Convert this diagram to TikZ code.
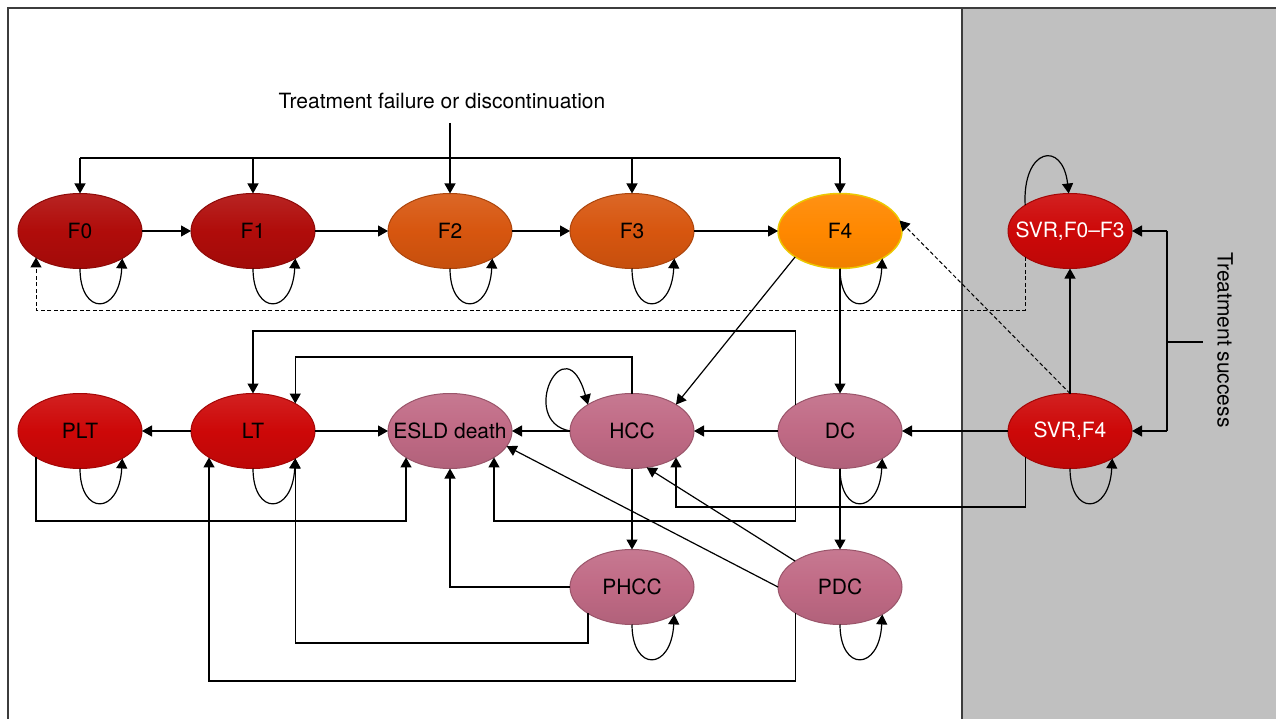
\documentclass[tikz,border=0pt]{standalone}
\usepackage{fontspec}
\setmainfont{TeX Gyre Heros}
\usetikzlibrary{shapes.geometric,arrows.meta,calc}
\definecolor{dredC}{RGB}{176,12,10}
\definecolor{orgC}{RGB}{215,86,15}
\definecolor{f4C}{RGB}{255,136,0}
\definecolor{f4edge}{RGB}{236,200,0}
\definecolor{redC}{RGB}{205,8,8}
\definecolor{pinkC}{RGB}{192,106,133}
\definecolor{bgC}{RGB}{192,192,192}
\definecolor{frameC}{RGB}{60,60,60}
\tikzset{
  base/.style={ellipse, minimum width=124pt, minimum height=75pt, inner sep=0pt, outer sep=0pt, line width=1pt, font=\fontsize{21}{25}\selectfont},
  stc/.style={base, draw=#1!80!black, top color=#1!90!white, bottom color=#1!92!black, middle color=#1},
  f4st/.style={base, draw=f4edge, line width=1.5pt, top color=f4C!92!white, bottom color=f4C!94!black, middle color=f4C},
  arr/.style={line width=1.2pt, -{Triangle[length=10pt,width=11pt]}},
  ln/.style={line width=1.2pt},
  dsh/.style={line width=1pt, dash pattern=on 4pt off 2.5pt, -{Triangle[length=10pt,width=11pt]}},
  lbl/.style={font=\fontsize{21}{25}\selectfont, inner sep=0pt}
}
\newcommand{\mk}[1]{\makebox[0pt]{#1}}
\begin{document}
\begin{tikzpicture}[x=1pt,y=-1pt]
\useasboundingbox (0,0) rectangle (1276,719);
\clip (0,0) rectangle (1276,719);
% background and frame
\fill[white] (0,0) rectangle (1276,719);
\fill[bgC] (962,8) rectangle (1290,730);
\draw[frameC, line width=1.6pt] (8,730) -- (8,8) -- (1290,8);
\draw[frameC, line width=1.6pt] (962,8) -- (962,730);

% nodes
\node[stc=dredC] (F0) at (80,231) {\mk{F0}};
\node[stc=dredC] (F1) at (253,231) {\mk{F1}};
\node[stc=orgC] (F2) at (450,231) {\mk{F2}};
\node[stc=orgC] (F3) at (632,231) {\mk{F3}};
\node[f4st] (F4) at (840,231) {\mk{F4}};
\node[stc=redC, text=white] (SVR1) at (1070,231) {\mk{SVR,F0--F3}};

\node[stc=redC] (PLT) at (80,431) {\mk{PLT}};
\node[stc=redC] (LT) at (253,431) {\mk{LT}};
\node[stc=pinkC] (ESLD) at (450,431) {\mk{ESLD death}};
\node[stc=pinkC] (HCC) at (632,431) {\mk{HCC}};
\node[stc=pinkC] (DC) at (840,431) {\mk{DC}};
\node[stc=redC, text=white] (SVR4) at (1070,431) {\mk{SVR,F4}};

\node[stc=pinkC] (PHCC) at (632,587) {\mk{PHCC}};
\node[stc=pinkC] (PDC) at (840,587) {\mk{PDC}};

% texts
\node[lbl] (tf) at (442,101) {Treatment failure or discontinuation};
\node[lbl, rotate=-90] (ts) at (1225,340) {Treatment success};

% helper coordinates
\coordinate (tfb) at (450,123);
\coordinate (yT) at (0,158);
\coordinate (yD) at (0,310);
\coordinate (y331) at (0,331);
\coordinate (y357) at (0,357);
\coordinate (y507) at (0,507);
\coordinate (y521) at (0,521);
\coordinate (y643) at (0,643);
\coordinate (y681) at (0,681);
\coordinate (bx) at (1167,0);
\coordinate (tk) at (1203,342);

% treatment failure bus
\draw[arr] (tfb) -- (F2.north);
\draw[ln] (F0.north |- yT) -- (F4.north |- yT);
\foreach \n in {F0,F1,F3,F4} { \draw[arr] (\n.north |- yT) -- (\n.north); }

% top chain
\draw[arr] (F0) -- (F1);
\draw[arr] (F1) -- (F2);
\draw[arr] (F2) -- (F3);
\draw[arr] (F3) -- (F4);

% self loops below
\foreach \n in {F0,F1,F2,F3,F4,PLT,LT,DC,SVR4,PHCC,PDC} {
  \draw[arr] (\n.south) .. controls +(0,47.5) and +(-3,57) .. (\n.-33);
}
% HCC loop
\draw[arr] (HCC.180) .. controls +(-53,-10) and +(-23,-82) .. (HCC.149);
% SVR F0-F3 loop
\draw[arr] (SVR1.150) .. controls +(-3,-57) and +(-6,-54) .. (SVR1.92);

% dashed returns
\draw[dsh] (SVR1.-150) -- (SVR1.-150 |- yD) -| (F0.-149);
\draw[dsh] (SVR4.north) -- (F4.10);

% treatment success bracket
\draw[ln] (bx |- SVR1) -- (bx |- SVR4);
\draw[arr] (bx |- SVR1) -- (SVR1.east);
\draw[arr] (bx |- SVR4) -- (SVR4.east);
\draw[ln] (bx |- tk) -- (tk);

% SVR transitions
\draw[arr] (SVR4) -- (SVR1);
\draw[arr] (SVR4) -- (DC);
\draw[arr] (SVR4.-150) -- (SVR4.-150 |- y507) -| (HCC.-31);

% F4 transitions
\draw[arr] (F4.-150) -- (HCC.31);
\draw[arr] (F4) -- (DC);

% middle row
\draw[arr] (DC) -- (HCC);
\draw[arr] (HCC) -- (ESLD);
\draw[arr] (LT) -- (ESLD);
\draw[arr] (LT) -- (PLT);
\draw[arr] (DC.150) -- (DC.150 |- y331) -| (LT.north);
\draw[arr] (HCC.north) -- (HCC.north |- y357) -| (LT.33);
\draw[arr] (DC.-150) -- (DC.-150 |- y521) -| (ESLD.-31);
\draw[arr] (PLT.-149) -- (PLT.-149 |- y521) -| (ESLD.-149);

% lower row
\draw[arr] (HCC) -- (PHCC);
\draw[arr] (DC) -- (PDC);
\draw[arr] (PHCC.west) -| (ESLD.south);
\draw[arr] (PHCC.-149) -- (PHCC.-149 |- y643) -| (LT.-33);
\draw[arr] (PDC.-150) -- (PDC.-150 |- y681) -| (LT.-149);
\draw[arr] (PDC.west) -- (ESLD.-15);
\draw[arr] (PDC.150) -- (HCC.-68);
\end{tikzpicture}
\end{document}
